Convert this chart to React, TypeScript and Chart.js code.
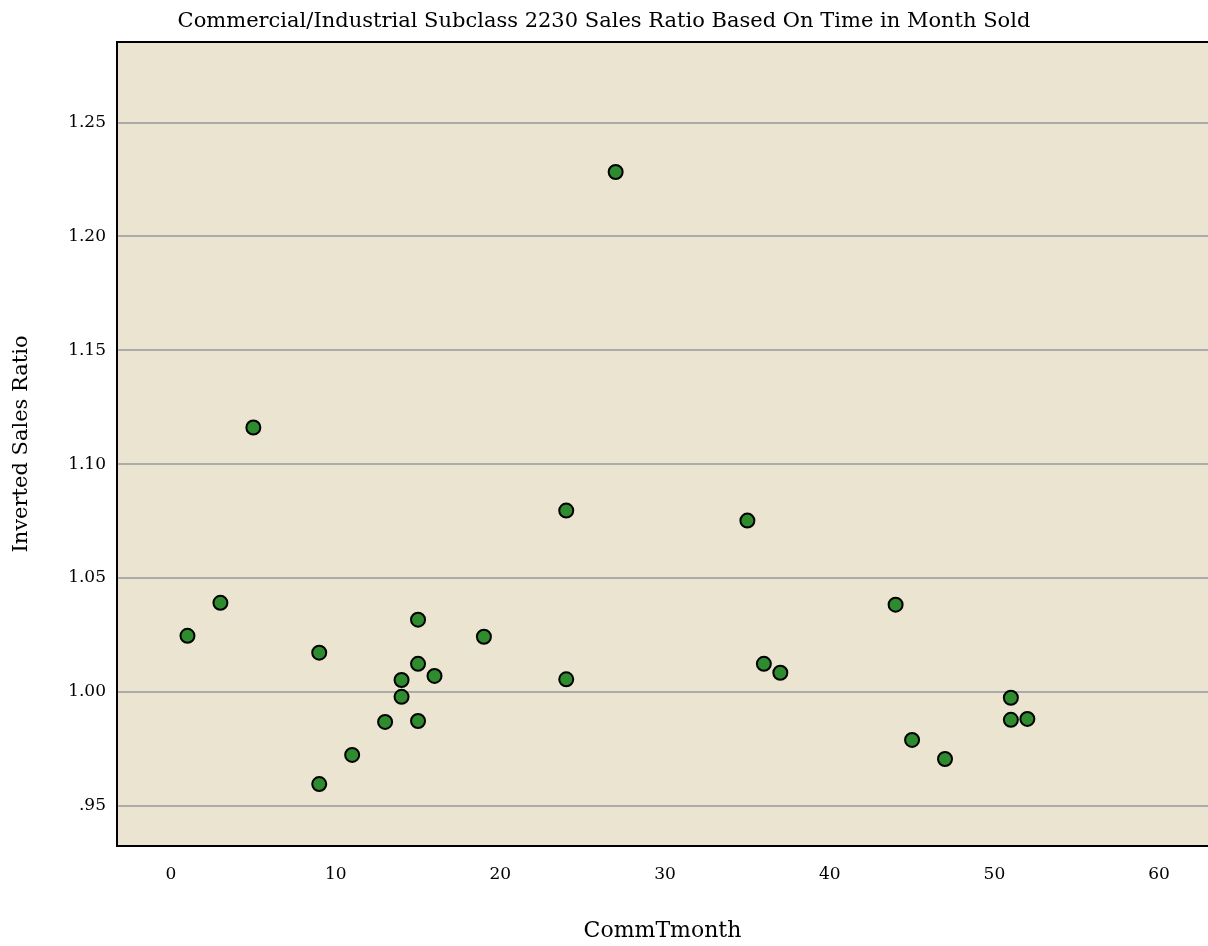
import React, { useEffect, useRef } from "react";
import { Chart, registerables } from "chart.js";

Chart.register(...registerables);

const chartTitle = "Commercial/Industrial Subclass 2230 Sales Ratio Based On Time in Month Sold";
const xAxisTitle = "CommTmonth";
const yAxisTitle = "Inverted Sales Ratio";

const months = [1, 3, 5, 9, 9, 11, 13, 14, 14, 15, 15, 15, 16, 19, 24, 24, 27, 35, 36, 37, 44, 45, 47, 51, 51, 52];
const ratios = [1.0246, 1.0391, 1.1161, 1.0172, 0.9595, 0.9723, 0.9868, 1.0052, 0.9978, 1.0317, 1.0123, 0.9872, 1.007, 1.0242, 1.0796, 1.0055, 1.2283, 1.0752, 1.0123, 1.0084, 1.0383, 0.9789, 0.9705, 0.9974, 0.9877, 0.9881];

const xTicks = [0, 10, 20, 30, 40, 50, 60];
const yTicks = [0.95, 1.0, 1.05, 1.1, 1.15, 1.2, 1.25];
const yTickLabels = [".95", "1.00", "1.05", "1.10", "1.15", "1.20", "1.25"];

const FONT = "'DejaVu Serif', serif";

const framePlugin = {
  id: "frame",
  beforeDraw(chart: any) {
    const { ctx, chartArea } = chart;
    ctx.save();
    ctx.fillStyle = "#EAE4D0";
    ctx.fillRect(chartArea.left, chartArea.top, chartArea.right - chartArea.left, chartArea.bottom - chartArea.top);
    ctx.restore();
  },
  afterDraw(chart: any) {
    const { ctx, chartArea } = chart;
    ctx.save();
    ctx.strokeStyle = "#000";
    ctx.lineWidth = 2;
    ctx.beginPath();
    ctx.moveTo(chartArea.left - 1, chartArea.top);
    ctx.lineTo(chartArea.right, chartArea.top);
    ctx.stroke();
    ctx.restore();
  },
};

export default function App() {
  const ref = useRef<HTMLCanvasElement>(null);

  useEffect(() => {
    document.body.style.margin = "0";
    const points = months.map((m, i) => ({ x: m, y: ratios[i] }));
    const chart = new Chart(ref.current as HTMLCanvasElement, {
      type: "scatter",
      data: {
        datasets: [
          {
            data: points,
            backgroundColor: "#2E8B2E",
            borderColor: "#000",
            borderWidth: 2,
            pointRadius: 7,
            pointHoverRadius: 7,
          },
        ],
      },
      options: {
        responsive: false,
        animation: false,
        layout: { padding: 0, autoPadding: false },
        plugins: {
          legend: { display: false },
          tooltip: { enabled: false },
          title: {
            display: true,
            text: chartTitle,
            color: "#000",
            font: { family: FONT, size: 21, weight: "normal" },
            padding: { top: 9, bottom: 7.8 },
          },
        },
        scales: {
          x: {
            type: "linear",
            min: -3.28,
            max: 62.97,
            afterBuildTicks: (s: any) => {
              s.ticks = xTicks.map((v) => ({ value: v }));
            },
            afterFit: (s: any) => {
              s.height = 100;
              s.paddingLeft = 0;
              s.paddingRight = 0;
            },
            grid: { display: false, drawTicks: false },
            border: { display: true, color: "#000", width: 2 },
            ticks: {
              color: "#000",
              font: { family: FONT, size: 17 },
              padding: 18,
              maxRotation: 0,
              autoSkip: false,
            },
            title: {
              display: true,
              text: xAxisTitle,
              color: "#000",
              font: { family: FONT, size: 22 },
              padding: { top: 0, bottom: 2 },
            },
          },
          y: {
            type: "linear",
            min: 0.9323,
            max: 1.2854,
            afterBuildTicks: (s: any) => {
              s.ticks = yTicks.map((v) => ({ value: v }));
            },
            afterFit: (s: any) => {
              s.width = 117;
              s.paddingTop = 0;
              s.paddingBottom = 0;
            },
            grid: { display: true, drawTicks: false, color: "#ABABAB", lineWidth: 2 },
            border: { display: true, color: "#000", width: 2 },
            ticks: {
              color: "#000",
              font: { family: FONT, size: 17 },
              padding: 11,
              autoSkip: false,
              callback: (v: any) => {
                const i = yTicks.findIndex((t) => Math.abs(t - Number(v)) < 1e-6);
                return i >= 0 ? yTickLabels[i] : "";
              },
            },
            title: {
              display: true,
              text: yAxisTitle,
              color: "#000",
              font: { family: FONT, size: 21 },
              padding: { top: 9, bottom: 0 },
            },
          },
        },
      },
      plugins: [framePlugin],
    });
    return () => chart.destroy();
  }, []);

  return (
    <div style={{ width: 1208, height: 946 }}>
      <canvas ref={ref} width={1208} height={946} style={{ display: "block" }} />
    </div>
  );
}
